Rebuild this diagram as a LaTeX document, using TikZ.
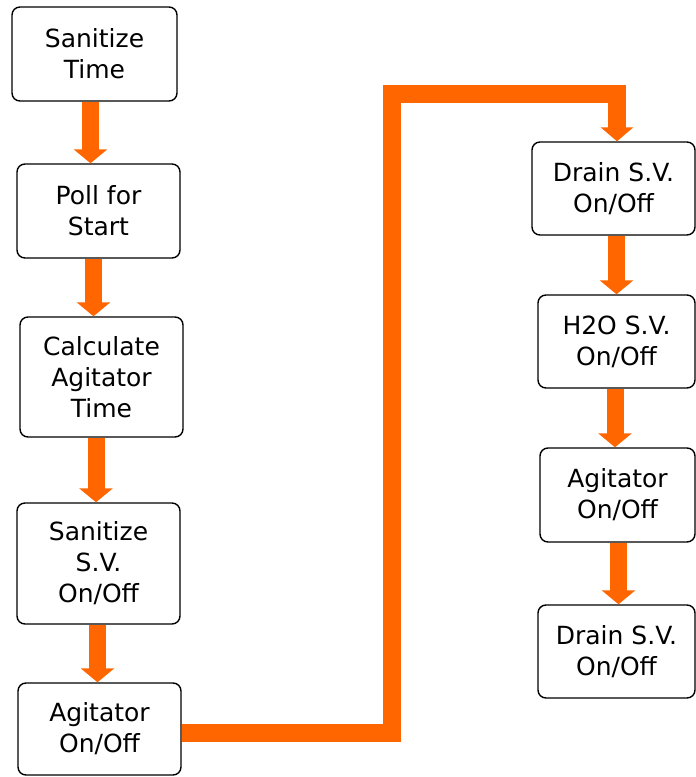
\documentclass[tikz,border=0pt]{standalone}
\usepackage{fontspec}
\setmainfont{DejaVu Sans}
\usetikzlibrary{arrows.meta}
\definecolor{flow}{HTML}{FF6600}
\begin{document}
\begin{tikzpicture}[x=1pt,y=-1pt,
  box/.style={draw=black, line width=1.4pt, rounded corners=8pt, fill=white,
    inner sep=0pt, align=center, font=\fontsize{25}{31}\selectfont},
  arr/.style={draw=flow, line width=17pt, line cap=butt,
    -{Triangle[width=33pt,length=14pt]}},
  conn/.style={draw=flow, line width=18pt, line cap=butt, line join=miter,
    -{Triangle[width=32pt,length=14pt]}}]
\useasboundingbox (0,0) rectangle (696,777);
% left column
\node[box, minimum width=165pt, minimum height=94pt] (b1) at (94.5,54) {Sanitize\\Time};
\node[box, minimum width=163pt, minimum height=94pt] (b2) at (98.5,211) {Poll for\\Start};
\node[box, minimum width=163pt, minimum height=120pt] (b3) at (101.5,377) {Calculate\\Agitator\\Time};
\node[box, minimum width=163pt, minimum height=121pt] (b4) at (98.5,563.5) {Sanitize\\S.V.\\On/Off};
\node[box, minimum width=163pt, minimum height=92pt] (b5) at (99.5,729) {Agitator\\On/Off};
% right column
\node[box, minimum width=163pt, minimum height=93pt] (b6) at (613.5,188.5) {Drain S.V.\\On/Off};
\node[box, minimum width=157pt, minimum height=93pt] (b7) at (616.5,341.5) {H2O S.V.\\On/Off};
\node[box, minimum width=155pt, minimum height=94pt] (b8) at (617.5,495) {Agitator\\On/Off};
\node[box, minimum width=157pt, minimum height=93pt] (b9) at (616.5,651.5) {Drain S.V.\\On/Off};
\coordinate (c1) at (392,94);
% arrows
\draw[arr] ([xshift=-4pt]b1.south) -- ([xshift=-8pt]b2.north);
\draw[arr] ([xshift=-5pt]b2.south) -- ([xshift=-8pt]b3.north);
\draw[arr] ([xshift=-5.5pt]b3.south) -- ([xshift=-2.5pt]b4.north);
\draw[arr] ([xshift=-1pt]b4.south) -- ([xshift=-2pt]b5.north);
\draw[conn] ([yshift=-4pt]b5.east) -| (c1) -| ([xshift=3.5pt]b6.north);
\draw[arr] ([xshift=3pt]b6.south) -- (b7.north);
\draw[arr] ([xshift=-1.5pt]b7.south) -- ([xshift=-2.5pt]b8.north);
\draw[arr] ([xshift=1pt]b8.south) -- ([xshift=2pt]b9.north);
\end{tikzpicture}
\end{document}
